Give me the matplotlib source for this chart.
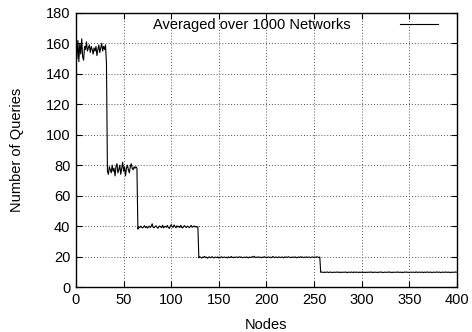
import numpy as np
import matplotlib
matplotlib.use("Agg")
import matplotlib.pyplot as plt

# Average number of queries per node count, one list per plateau
seg_start = [1, 33, 65, 129, 257]

seg1 = [150, 162, 148, 160, 153, 163, 151, 149,
        158, 156, 161, 155, 157, 159, 154, 158,
        156, 153, 157, 155, 158, 152, 156, 159,
        154, 157, 160, 155, 158, 156, 159, 147]

seg2 = [76, 74, 79, 77, 75, 80, 76, 78,
        73, 79, 81, 75, 77, 80, 74, 78,
        82, 76, 79, 73, 78, 80, 77, 75,
        79, 81, 78, 77, 79, 78, 79, 78]

seg3 = [38.0, 39.5, 39.0, 40.0, 39.2, 38.8, 39.5, 40.3,
        39.0, 39.6, 38.7, 39.4, 40.0, 39.1, 39.8, 41.5,
        39.2, 38.9, 39.7, 40.2, 39.3, 38.6, 39.5, 40.1,
        39.4, 39.0, 40.6, 38.8, 39.6, 39.9, 39.2, 40.4,
        39.1, 38.5, 39.8, 41.0, 39.5, 39.2, 40.8, 39.7,
        38.9, 40.2, 39.4, 39.9, 39.0, 40.5, 39.3, 38.8,
        39.7, 40.3, 39.5, 39.1, 40.0, 39.6, 38.9, 39.8,
        40.4, 39.2, 39.7, 40.1, 39.4, 39.9, 39.3, 39.6]

seg4 = [19.2, 19.8, 19.5, 19.0, 19.7, 19.4, 20.1, 19.3,
        19.6, 18.9, 19.5, 19.8, 19.2, 19.6, 19.9, 19.4,
        19.1, 19.7, 19.5, 19.3, 19.8, 19.0, 19.6, 19.4,
        19.9, 19.2, 19.5, 19.7, 19.3, 19.6, 19.1, 19.8,
        19.5, 19.4, 20.0, 19.6, 19.2, 19.7, 19.4, 19.5,
        19.8, 19.3, 19.6, 19.9, 19.4, 19.7, 19.2, 19.5,
        19.6, 19.3, 19.8, 19.5, 19.1, 19.7, 19.4, 19.6,
        19.9, 19.5, 20.2, 19.6, 19.3, 19.7, 19.5, 19.8,
        19.4, 19.6, 19.2, 19.7, 19.5, 19.9, 19.4, 19.6,
        19.3, 19.8, 19.5, 19.6, 19.2, 19.7, 20.0, 19.5,
        19.4, 19.7, 19.6, 19.3, 19.8, 19.5, 19.4, 19.7,
        19.6, 19.2, 19.8, 19.5, 19.7, 19.4, 19.9, 19.6,
        19.5, 19.3, 19.7, 19.6, 19.4, 19.8, 19.5, 19.2,
        19.7, 19.6, 19.4, 19.9, 19.5, 19.7, 19.3, 19.6,
        19.5, 19.8, 19.4, 19.6, 19.7, 19.3, 19.5, 19.8,
        19.6, 19.4, 19.7, 19.5, 19.9, 19.6, 19.4, 19.7]

seg5 = [9.6, 9.9, 9.7, 9.5, 9.8, 9.6, 9.7, 9.9,
        9.5, 9.7, 9.8, 9.6, 9.7, 9.5, 9.8, 9.7,
        9.6, 9.9, 9.7, 9.6, 9.8, 9.5, 9.7, 9.8,
        9.6, 9.7, 9.9, 9.6, 9.5, 9.8, 9.7, 9.6,
        9.8, 9.7, 9.5, 9.9, 9.7, 9.6, 9.8, 9.7,
        9.5, 9.8, 9.6, 9.7, 9.9, 9.6, 9.7, 9.5,
        9.8, 9.6, 9.7, 9.8, 9.6, 9.9, 9.7, 9.5,
        9.7, 9.8, 9.6, 9.7, 9.5, 9.8, 9.7, 9.9,
        9.6, 9.7, 9.5, 9.8, 9.7, 9.6, 9.8, 9.7,
        9.9, 9.6, 9.7, 9.5, 9.8, 9.6, 9.7, 9.8,
        9.6, 9.9, 9.7, 9.6, 9.8, 9.5, 9.7, 9.6,
        9.8, 9.7, 9.9, 9.6, 9.7, 9.5, 9.8, 9.7,
        9.6, 9.8, 9.7, 9.5, 9.9, 9.7, 9.6, 9.8,
        9.7, 9.6, 9.8, 9.7, 9.5, 9.8, 9.6, 9.7,
        9.9, 9.7, 9.6, 9.8, 9.7, 9.5, 9.7, 9.8,
        9.6, 9.7, 9.9, 9.6, 9.8, 9.7, 9.5, 9.7,
        9.8, 9.6, 9.7, 9.9, 9.6, 9.7, 9.8, 9.6,
        9.7, 9.5, 9.8, 9.7, 9.6, 9.9, 9.7, 9.8]

x_ticks = [0, 50, 100, 150, 200, 250, 300, 350, 400]
y_ticks = [0, 20, 40, 60, 80, 100, 120, 140, 160, 180]

plt.rcParams['font.family'] = ['Liberation Sans', 'DejaVu Sans']
plt.rcParams['font.size'] = 10.5

# Build node/query arrays from the segments
nodes = []
queries = []
for start, seg in zip(seg_start, [seg1, seg2, seg3, seg4, seg5]):
    nodes.extend(range(start, start + len(seg)))
    queries.extend(seg)
nodes = np.array(nodes)
queries = np.array(queries)

fig = plt.figure(figsize=(4.72, 3.32), dpi=100)
ax = fig.add_axes([0.161, 0.1355, 0.807, 0.8255])

ax.plot(nodes, queries, color='black', lw=0.8, label='Averaged over 1000 Networks')

ax.set_xlim(0, 400)
ax.set_ylim(0, 180)
ax.set_xticks(x_ticks)
ax.set_yticks(y_ticks)
ax.tick_params(direction='in', top=True, right=True, length=4, width=0.8, pad=4)
ax.grid(True, linestyle=(0, (1, 2)), color='#555555', lw=0.7)
for s in ax.spines.values():
    s.set_linewidth(1.0)

ax.set_xlabel('Nodes', labelpad=8)
ax.set_ylabel('Number of Queries', labelpad=16)

leg = ax.legend(loc='upper right', bbox_to_anchor=(0.95, 0.982), frameon=False,
                markerfirst=False, handlelength=2.6, handletextpad=3.4,
                borderpad=0, borderaxespad=0)

fig.savefig('out.png', dpi=100)
